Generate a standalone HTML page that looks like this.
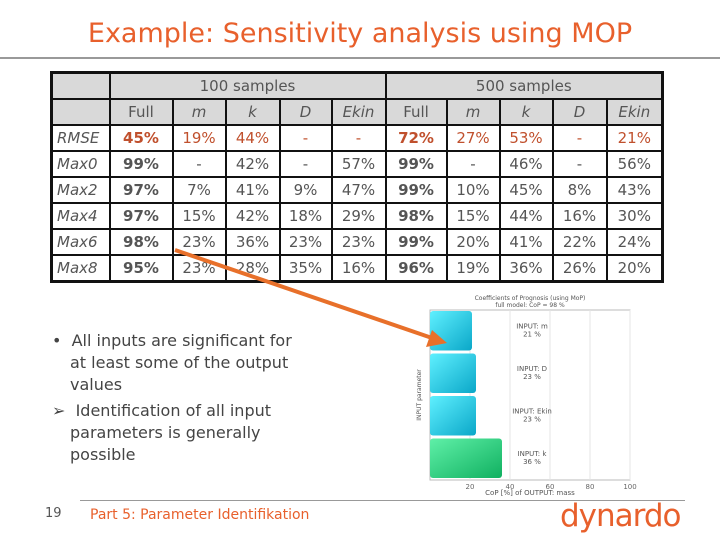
<!DOCTYPE html>
<html><head><meta charset="utf-8"><style>
body{margin:0;width:720px;height:540px;background:#fff;position:relative;overflow:hidden;font-family:"DejaVu Sans","Liberation Sans",sans-serif}
#title{position:absolute;left:0;width:720px;top:18px;text-align:center;color:#e8602c;font-size:27px}
.hr{position:absolute;left:0;width:720px;height:2px;background:#999}
table{position:absolute;left:50px;top:71px;width:612px;table-layout:fixed;border-collapse:collapse;border:3px solid #111;font-size:15px;color:#555}
td{border:2px solid #111;height:24px;padding:0;text-align:center}
.h{background:#d9d9d9}
.r{text-align:left;padding-left:4px;font-style:italic}
.i{font-style:italic}
.b{font-weight:bold}
.red{color:#c0502d}
#bul{position:absolute;left:40px;top:330px;width:360px;font-size:16px;color:#444;line-height:22px;white-space:nowrap}
#bul div{padding-left:30px;text-indent:-18px}
#ft{position:absolute;left:90px;top:507px;color:#e8602c;font-size:14px}
#pg{position:absolute;left:45px;top:506px;color:#555;font-size:13px}
#logo{position:absolute;left:560px;top:498px;color:#e8602c;font-size:31px;letter-spacing:-1px}
</style></head><body>
<div id="title">Example: Sensitivity analysis using MOP</div>
<div class="hr" style="top:57px"></div>
<table>
<colgroup><col style="width:58px"><col style="width:63px"><col style="width:53px"><col style="width:54px"><col style="width:52px"><col style="width:54px"><col style="width:61px"><col style="width:53px"><col style="width:53px"><col style="width:54px"><col style="width:56px"></colgroup>
<tr class="h"><td></td><td colspan="5">100 samples</td><td colspan="5">500 samples</td></tr>
<tr class="h"><td></td><td>Full</td><td class="i">m</td><td class="i">k</td><td class="i">D</td><td class="i">Ekin</td><td>Full</td><td class="i">m</td><td class="i">k</td><td class="i">D</td><td class="i">Ekin</td></tr>
<tr class="red"><td class="r" style="color:#555">RMSE</td><td class="b">45%</td><td>19%</td><td>44%</td><td>-</td><td>-</td><td class="b">72%</td><td>27%</td><td>53%</td><td>-</td><td>21%</td></tr>
<tr><td class="r">Max0</td><td class="b">99%</td><td>-</td><td>42%</td><td>-</td><td>57%</td><td class="b">99%</td><td>-</td><td>46%</td><td>-</td><td>56%</td></tr>
<tr><td class="r">Max2</td><td class="b">97%</td><td>7%</td><td>41%</td><td>9%</td><td>47%</td><td class="b">99%</td><td>10%</td><td>45%</td><td>8%</td><td>43%</td></tr>
<tr><td class="r">Max4</td><td class="b">97%</td><td>15%</td><td>42%</td><td>18%</td><td>29%</td><td class="b">98%</td><td>15%</td><td>44%</td><td>16%</td><td>30%</td></tr>
<tr><td class="r">Max6</td><td class="b">98%</td><td>23%</td><td>36%</td><td>23%</td><td>23%</td><td class="b">99%</td><td>20%</td><td>41%</td><td>22%</td><td>24%</td></tr>
<tr><td class="r">Max8</td><td class="b">95%</td><td>23%</td><td>28%</td><td>35%</td><td>16%</td><td class="b">96%</td><td>19%</td><td>36%</td><td>26%</td><td>20%</td></tr>
</table>
<div id="bul">
<div>•&nbsp;&nbsp;All inputs are significant for<br>at least some of the output<br>values</div>
<div style="margin-top:4px">➢&nbsp;&nbsp;Identification of all input<br>parameters is generally<br>possible</div>
</div>
<svg id="chart" width="720" height="540" style="position:absolute;left:0;top:0">
<defs><linearGradient id="gc" x1="0" y1="0" x2="1" y2="1"><stop offset="0" stop-color="#5ff0ff"/><stop offset="1" stop-color="#0aa7c8"/></linearGradient>
<linearGradient id="gg" x1="0" y1="0" x2="1" y2="1"><stop offset="0" stop-color="#5ff0a8"/><stop offset="1" stop-color="#10b060"/></linearGradient></defs>
<g id="plot"></g>
<line x1="175" y1="250" x2="432" y2="338" stroke="#e8702a" stroke-width="4"/>
<polygon points="447,343 426,347 432,330" fill="#e8702a"/>
</svg>
<div class="hr" style="top:500px;left:80px;width:605px;height:1px"></div>
<div id="pg">19</div>
<div id="ft">Part 5: Parameter Identifikation</div>
<div id="logo">dynardo</div>
<script>
const labels=["INPUT: m","INPUT: D","INPUT: Ekin","INPUT: k"];
const values=[21,23,23,36];
const xticks=[20,40,60,80,100];
const ns="http://www.w3.org/2000/svg",g=document.getElementById('plot');
const X0=430,X1=630,Y0=310,Y1=480;
const sx=v=>X0+(v/100)*(X1-X0);
const bh=(Y1-Y0)/labels.length;
function mk(t,a){const e=document.createElementNS(ns,t);for(const k in a)e.setAttribute(k,a[k]);g.appendChild(e);return e;}
const fr=mk('rect',{x:X0,y:Y0,width:X1-X0,height:Y1-Y0,fill:'none',stroke:'#bbb'});


xticks.forEach(t=>{const l=mk('line',{x1:sx(t),x2:sx(t),y1:Y0,y2:Y1,stroke:'#e4e4e4'});


const tx=mk('text',{x:sx(t),y:Y1+9,'font-size':7,fill:'#666','text-anchor':'middle'});tx.textContent=t;

});
values.forEach((v,i)=>{const y=Y0+i*bh+1;
const r=mk('rect',{x:X0,y:y,width:sx(v)-X0,height:bh-3,rx:3,fill:i==3?'url(#gg)':'url(#gc)'});


const t=mk('text',{x:532,y:y+bh/2-4,'font-size':7,fill:'#555','text-anchor':'middle'});t.textContent=labels[i];


const t2=mk('text',{x:532,y:y+bh/2+4,'font-size':7,fill:'#555','text-anchor':'middle'});t2.textContent=v+' %';

});
const tt=mk('text',{x:530,y:300,'font-size':6,fill:'#555','text-anchor':'middle'});tt.textContent='Coefficients of Prognosis (using MoP)';


const t3=mk('text',{x:530,y:307,'font-size':6,fill:'#555','text-anchor':'middle'});t3.textContent='full model: CoP = 98 %';


const xl=mk('text',{x:530,y:495,'font-size':7,fill:'#555','text-anchor':'middle'});xl.textContent='CoP [%] of OUTPUT: mass';


const yl=mk('text',{x:0,y:0,'font-size':6,fill:'#555','text-anchor':'middle',transform:'translate(421,395) rotate(-90)'});yl.textContent='INPUT parameter';


</script>
</body></html>
